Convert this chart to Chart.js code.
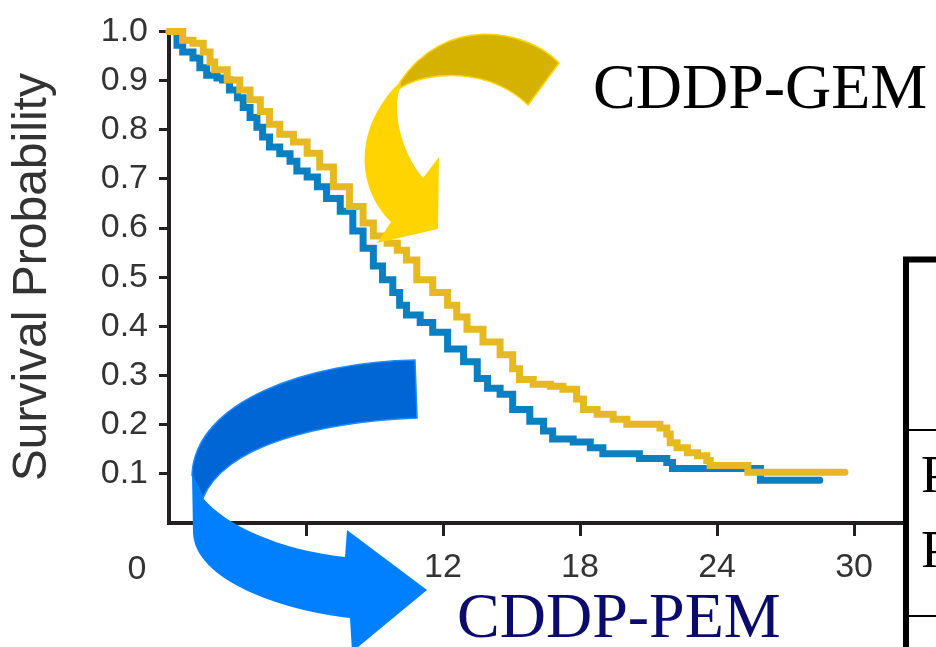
<!DOCTYPE html>
<html>
<head>
<meta charset="utf-8">
<script src="https://cdn.jsdelivr.net/npm/chart.js@4.4.1/dist/chart.umd.min.js"></script>
<style>
  html, body { margin: 0; padding: 0; background: #fff; }
  canvas { display: block; }
</style>
</head>
<body>
<canvas id="km-chart" width="936" height="647"></canvas>
<script>
// CDDP-GEM: months and survival probability at each step
let gemMonths = [0, 0.6, 1.05, 1.5, 1.8, 2.0, 2.55, 3.1, 3.55, 4.0, 4.4, 4.85, 5.45, 6.05, 6.6, 7.2, 7.9, 8.5, 8.95, 9.55, 10.0, 10.4, 10.85, 11.55, 12.2, 12.6, 13.05, 13.75, 14.5, 15.05, 15.35, 15.95, 16.7, 17.25, 17.85, 18.15, 18.75, 19.45, 20.05, 21.5, 21.8, 21.95, 22.25, 22.7, 23.15, 23.55, 23.7, 25.35, 29.6];
let gemSurvival = [1.0, 0.982, 0.976, 0.958, 0.938, 0.922, 0.901, 0.881, 0.861, 0.837, 0.811, 0.791, 0.775, 0.752, 0.724, 0.684, 0.644, 0.610, 0.584, 0.569, 0.555, 0.535, 0.495, 0.469, 0.443, 0.419, 0.394, 0.368, 0.342, 0.314, 0.292, 0.282, 0.278, 0.272, 0.252, 0.231, 0.221, 0.211, 0.201, 0.193, 0.181, 0.163, 0.153, 0.143, 0.137, 0.127, 0.117, 0.103, 0.103];

// CDDP-PEM: months and survival probability at each step
let pemMonths = [0, 0.35, 0.6, 1.05, 1.35, 1.65, 2.1, 2.35, 2.65, 3.0, 3.25, 3.55, 3.85, 4.1, 4.4, 4.85, 5.3, 5.6, 6.05, 6.5, 6.9, 7.5, 8.05, 8.5, 8.95, 9.35, 9.8, 10.1, 10.4, 11.0, 11.55, 12.2, 12.9, 13.5, 13.95, 14.5, 15.05, 15.8, 16.4, 16.8, 17.7, 18.45, 19.0, 20.6, 21.8, 22.05, 25.9, 28.5];
let pemSurvival = [1.0, 0.972, 0.958, 0.946, 0.926, 0.911, 0.905, 0.901, 0.881, 0.865, 0.845, 0.825, 0.805, 0.785, 0.765, 0.751, 0.736, 0.716, 0.704, 0.684, 0.660, 0.634, 0.594, 0.559, 0.523, 0.495, 0.469, 0.443, 0.423, 0.408, 0.388, 0.354, 0.328, 0.294, 0.274, 0.262, 0.231, 0.207, 0.187, 0.171, 0.165, 0.153, 0.141, 0.131, 0.123, 0.111, 0.087, 0.087];

// Tick labels
let xTicks = [0, 6, 12, 18, 24, 30];
let yTicks = [0.1, 0.2, 0.3, 0.4, 0.5, 0.6, 0.7, 0.8, 0.9, 1.0];

let seriesNames = ["CDDP-GEM", "CDDP-PEM"];
let seriesColours = ["#E6B923", "#0A7FC2"];
let yAxisTitle = "Survival Probability";

// first letters of the table rows cut off at the right edge
let tableRows = ["PS 0", "PS 1"];

const axisColour = "#231f20";
const tickFont = { family: "'Liberation Sans', Arial, sans-serif", size: 34 };

function toPoints(months, values) {
    return months.map((m, i) => ({ x: m, y: values[i] }));
}

function drawArrows(ctx) {
    // gold arrow, upper band
    ctx.beginPath();
    ctx.moveTo(559, 63);
    ctx.bezierCurveTo(525, 28, 445, 15, 400, 82);
    ctx.lineTo(400, 88);
    ctx.bezierCurveTo(430, 70, 490, 68, 528, 105);
    ctx.closePath();
    ctx.fillStyle = "#D6B200";
    ctx.fill();
    ctx.lineWidth = 1.5;
    ctx.strokeStyle = "#FFD400";
    ctx.stroke();

    // gold arrow, shaft and head
    ctx.beginPath();
    ctx.moveTo(400, 82);
    ctx.bezierCurveTo(360, 120, 350, 180, 391, 222);
    ctx.lineTo(377, 243);
    ctx.lineTo(438, 229);
    ctx.lineTo(439, 157);
    ctx.lineTo(423, 178);
    ctx.bezierCurveTo(400, 150, 392, 110, 400, 88);
    ctx.closePath();
    ctx.fillStyle = "#FFD400";
    ctx.fill();

    // blue arrow, upper band
    ctx.beginPath();
    ctx.moveTo(415, 360);
    ctx.bezierCurveTo(310, 362, 195, 400, 192, 475);
    ctx.lineTo(203, 498);
    ctx.bezierCurveTo(225, 445, 320, 422, 417, 418);
    ctx.closePath();
    ctx.fillStyle = "#0066D6";
    ctx.fill();
    ctx.lineWidth = 1.5;
    ctx.strokeStyle = "#1A8CFF";
    ctx.stroke();

    // blue arrow, shaft and head
    ctx.beginPath();
    ctx.moveTo(192, 473);
    ctx.lineTo(193, 533);
    ctx.bezierCurveTo(195, 580, 280, 610, 350, 618);
    ctx.lineTo(352, 652);
    ctx.lineTo(427, 590);
    ctx.lineTo(347, 530);
    ctx.lineTo(345, 557);
    ctx.bezierCurveTo(280, 550, 225, 525, 203, 498);
    ctx.closePath();
    ctx.fillStyle = "#0080FF";
    ctx.fill();
}

const overlayPlugin = {
    id: "overlay",
    afterDraw(chart) {
        const ctx = chart.ctx;
        const xScale = chart.scales.x;
        ctx.save();

        // the "0" label sits left of the origin
        ctx.font = tickFont.size + "px " + tickFont.family;
        ctx.fillStyle = "#333";
        ctx.textAlign = "center";
        ctx.textBaseline = "middle";
        ctx.fillText(String(xTicks[0]), xScale.getPixelForValue(0) - 32, xScale.top + 47);

        // partial table on the right
        ctx.strokeStyle = "#000";
        ctx.lineWidth = 6;
        ctx.beginPath();
        ctx.moveTo(906, 257);
        ctx.lineTo(906, 647);
        ctx.moveTo(903, 259.5);
        ctx.lineTo(936, 259.5);
        ctx.stroke();
        ctx.lineWidth = 2;
        ctx.beginPath();
        ctx.moveTo(909, 430);
        ctx.lineTo(936, 430);
        ctx.moveTo(909, 616);
        ctx.lineTo(936, 616);
        ctx.stroke();
        ctx.font = "53px 'Liberation Serif', 'Times New Roman', serif";
        ctx.fillStyle = "#000";
        ctx.textAlign = "left";
        ctx.textBaseline = "alphabetic";
        ctx.fillText(tableRows[0], 921, 492);
        ctx.fillText(tableRows[1], 921, 567);

        drawArrows(ctx);

        // series names
        ctx.font = "64px 'Liberation Serif', 'Times New Roman', serif";
        ctx.fillStyle = "#000";
        ctx.fillText(seriesNames[0], 593, 108);
        ctx.fillStyle = "#0B0B6E";
        ctx.fillText(seriesNames[1], 457, 637);

        ctx.restore();
    }
};

new Chart("km-chart", {
    type: "line",
    data: {
        datasets: [{
            label: seriesNames[0],
            data: toPoints(gemMonths, gemSurvival),
            borderColor: seriesColours[0],
            borderWidth: 7,
            stepped: true,
            pointRadius: 0,
            borderCapStyle: "round",
            clip: false
        }, {
            label: seriesNames[1],
            data: toPoints(pemMonths, pemSurvival),
            borderColor: seriesColours[1],
            borderWidth: 7,
            stepped: true,
            pointRadius: 0,
            borderCapStyle: "round",
            clip: false
        }]
    },
    options: {
        responsive: false,
        animation: false,
        layout: {
            padding: { left: 0, top: 27, right: 34, bottom: 0 }
        },
        plugins: {
            legend: { display: false },
            tooltip: { enabled: false }
        },
        scales: {
            x: {
                type: "linear",
                min: 0,
                max: 32.1,
                afterBuildTicks: (scale) => {
                    scale.ticks = xTicks.map(v => ({ value: v }));
                },
                afterFit: (scale) => {
                    scale.height = 124;
                },
                border: { display: true, color: axisColour, width: 4 },
                grid: {
                    drawOnChartArea: false,
                    drawTicks: true,
                    tickLength: 13,
                    tickWidth: 3,
                    tickColor: (c) => (c.tick && c.tick.value === 0) ? "rgba(0,0,0,0)" : axisColour
                },
                ticks: {
                    font: tickFont,
                    color: "#333",
                    padding: 11,
                    maxRotation: 0,
                    callback: (v) => v === 0 ? "" : String(v)
                }
            },
            y: {
                min: 0,
                max: 1,
                afterBuildTicks: (scale) => {
                    scale.ticks = yTicks.map(v => ({ value: v }));
                },
                afterFit: (scale) => {
                    scale.width = 169;
                },
                border: { display: true, color: axisColour, width: 4 },
                grid: {
                    drawOnChartArea: false,
                    drawTicks: true,
                    tickLength: 10,
                    tickWidth: 3,
                    tickColor: axisColour
                },
                ticks: {
                    font: tickFont,
                    color: "#333",
                    padding: 11,
                    callback: (v) => v.toFixed(1)
                },
                title: {
                    display: true,
                    text: yAxisTitle,
                    font: { family: "'Liberation Sans', Arial, sans-serif", size: 48 },
                    color: "#333",
                    padding: { top: 4, bottom: 0 }
                }
            }
        }
    },
    plugins: [overlayPlugin]
});
</script>
</body>
</html>
